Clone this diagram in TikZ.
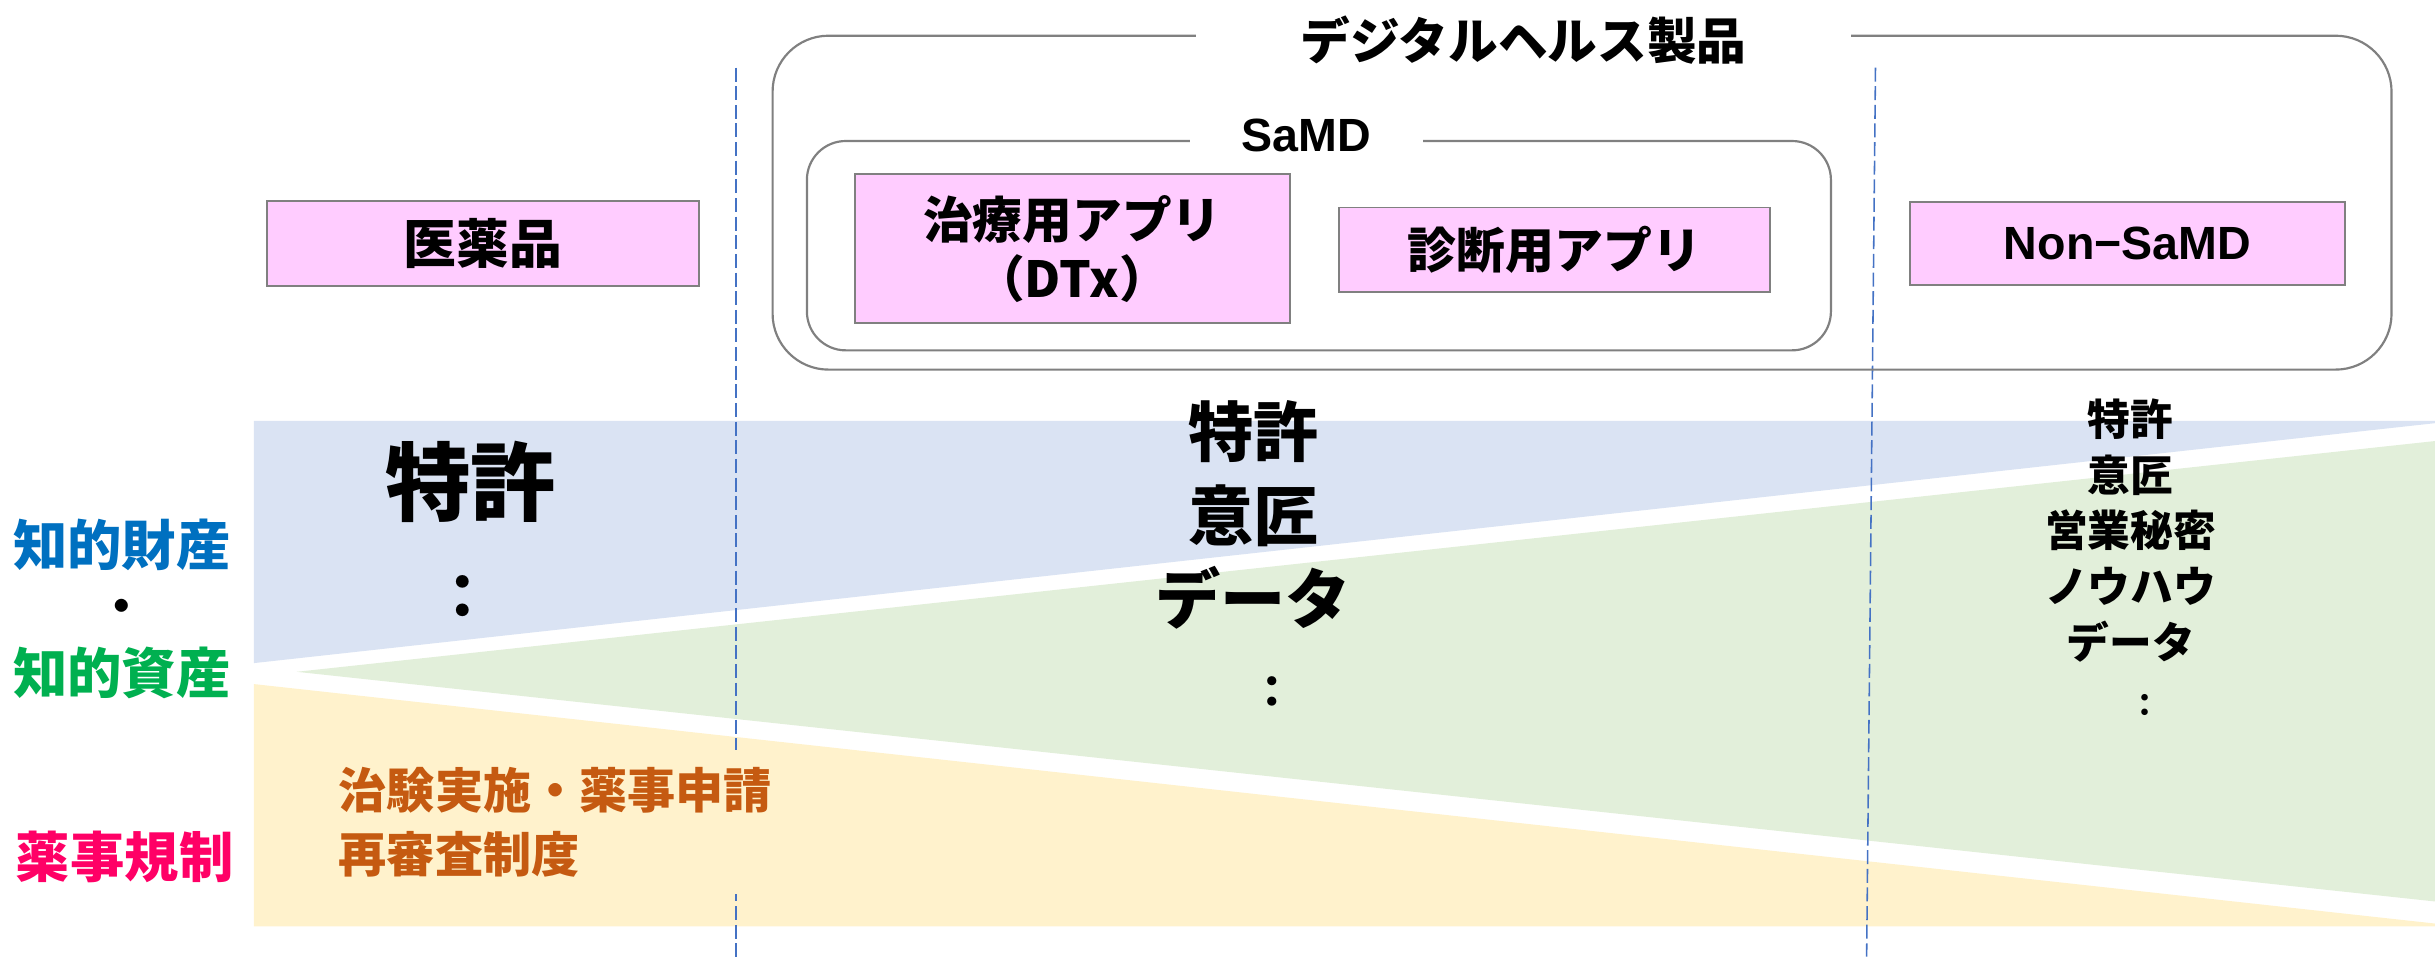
\documentclass[tikz,border=0pt]{standalone}
\usepackage{fontspec}
\setmainfont{Noto Sans CJK JP}
\newfontfamily\latfont{Liberation Sans}
\definecolor{bandblue}{HTML}{DAE3F3}
\definecolor{bandgreen}{HTML}{E2EFDA}
\definecolor{bandyellow}{HTML}{FFF2CC}
\definecolor{pinkfill}{HTML}{FFCCFF}
\definecolor{framegray}{HTML}{808080}
\definecolor{dashblue}{HTML}{4472C4}
\definecolor{ipblue}{HTML}{0070C0}
\definecolor{ipgreen}{HTML}{00B050}
\definecolor{regpink}{HTML}{FF0066}
\definecolor{regorange}{HTML}{C55A11}
\newcommand{\fsz}[2]{\fontsize{#1}{#2}\selectfont}
\begin{document}
\begin{tikzpicture}[x=1pt,y=-1pt,
  catbox/.style={draw=framegray, line width=1.2pt, fill=pinkfill, inner sep=0pt, align=center, font=\bfseries\fsz{32}{38}},
  groupframe/.style={draw=framegray, line width=1.4pt},
  grouptitle/.style={fill=white, inner sep=0pt, minimum height=30pt},
  divider/.style={draw=dashblue, line width=1pt, dash pattern=on 9pt off 3pt},
  lbl/.style={font=\bfseries\fsz{35}{40}},
  ipcol/.style={align=center}
]
\useasboundingbox (0,0) rectangle (1568,618);
% bands
\fill[bandblue] (163.5,271) -- (1568,271) -- (1568,272.5) -- (163.5,427) -- cycle;
\fill[bandgreen] (191,432.6) -- (1568,284) -- (1568,580.5) -- cycle;
\fill[bandyellow] (163.5,440.5) -- (1568,594.7) -- (1568,596.6) -- (163.5,596.6) -- cycle;
% dividers
\coordinate (d1t) at (474,43.5);
\coordinate (d1b) at (474,616);
\coordinate (d2t) at (1207.7,43.5);
\coordinate (d2b) at (1202,616);
\draw[divider] (d1t) -- (d1b);
\draw[divider] (d2t) -- (d2b);
% group frames
\draw[groupframe, rounded corners=36pt] (497.5,23) rectangle (1540,238);
\node[grouptitle, minimum width=422pt, font=\bfseries\fsz{32}{36}] (dhp) at (981,25.5) {デジタルヘルス製品};
\draw[groupframe, rounded corners=25pt] (519.6,90.8) rectangle (1179,225.6);
\node[grouptitle, minimum width=150pt, font=\latfont\bfseries\fsz{30}{34}] (samd) at (841,87) {SaMD};
% category boxes
\node[catbox, minimum width=278pt, minimum height=54.8pt, font=\bfseries\fsz{34}{38}] (drug) at (311,156.8) {医薬品};
\node[catbox, minimum width=280.1pt, minimum height=95.9pt] (dtx) at (690.5,160.2) {治療用アプリ\\（DTx）};
\node[catbox, minimum width=278pt, minimum height=54.6pt, font=\bfseries\fsz{31.5}{36}] (diag) at (1001,160.9) {診断用アプリ};
\node[catbox, minimum width=280pt, minimum height=53.5pt, font=\latfont\bfseries\fsz{30}{34}] (nonsamd) at (1370,156.8) {Non−SaMD};
% contents of the bands
\node[ipcol, font=\bfseries\fsz{55}{60}] (pat1) at (303,310.5) {特許};
\node[font=\bfseries\fsz{39}{44}] (etc1) at (298,384.5) {：};
\node[ipcol, font=\bfseries\fsz{42}{54}] (ip2) at (807,331.6) {特許\\意匠\\データ};
\node[font=\bfseries\fsz{28}{32}] (etc2) at (819,445.5) {：};
\node[ipcol, font=\bfseries\fsz{27.5}{35.9}] (ip3) at (1372,341.5) {特許\\意匠\\営業秘密\\ノウハウ\\データ};
\node[font=\bfseries\fsz{20}{24}] (etc3) at (1381,454.5) {：};
% left labels
\node[lbl, text=ipblue] (ipl) at (78.5,351) {知的財産};
\node[font=\bfseries\fsz{30}{34}] (sep) at (78.4,394) {・};
\node[lbl, text=ipgreen] (ial) at (78.5,433) {知的資産};
\node[lbl, text=regpink] (regl) at (80.3,552) {薬事規制};
% regulatory text
\node[fill=bandyellow, text=regorange, align=left, anchor=west, inner xsep=8pt, inner ysep=11pt, font=\bfseries\fsz{31}{41}] (regtxt) at (210,529.5) {治験実施・薬事申請\\再審査制度};
\end{tikzpicture}
\end{document}
